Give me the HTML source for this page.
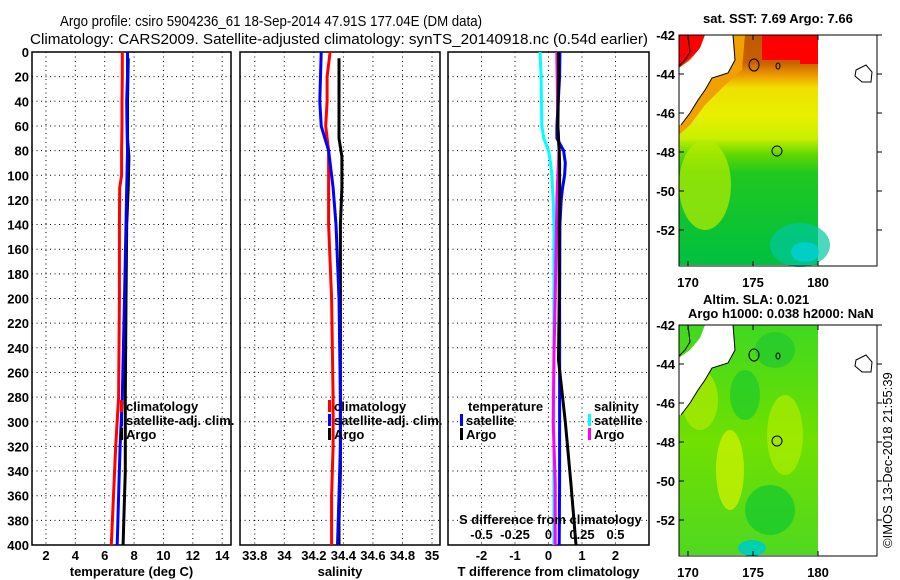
<!DOCTYPE html>
<html><head><meta charset="utf-8"><style>
html,body{margin:0;padding:0;background:#fff;width:900px;height:580px;overflow:hidden}
svg{display:block}
text{font-family:"Liberation Sans",sans-serif;font-weight:bold;font-size:13px;fill:#000}
.t{font-weight:normal;font-size:15px}
</style></head><body>
<svg id="fig" width="900" height="580" viewBox="0 0 900 580" xmlns="http://www.w3.org/2000/svg">
<text class="t" x="60" y="26" textLength="422" lengthAdjust="spacingAndGlyphs">Argo profile: csiro 5904236_61 18-Sep-2014 47.91S 177.04E (DM data)</text>
<text class="t" x="30" y="44" textLength="618" lengthAdjust="spacingAndGlyphs">Climatology: CARS2009. Satellite-adjusted climatology: synTS_20140918.nc (0.54d earlier)</text>

<g id="maps">
<defs>
<linearGradient id="sstg" x1="0" y1="0" x2="0" y2="1">
<stop offset="0" stop-color="#c05800"/><stop offset="0.12" stop-color="#c86000"/><stop offset="0.18" stop-color="#f0a000"/><stop offset="0.23" stop-color="#f0e000"/><stop offset="0.35" stop-color="#e8f000"/><stop offset="0.45" stop-color="#c8f000"/><stop offset="0.52" stop-color="#60d800"/><stop offset="0.6" stop-color="#20c820"/><stop offset="1" stop-color="#00c040"/>
</linearGradient>
<linearGradient id="slag" x1="0" y1="0" x2="0" y2="1">
<stop offset="0" stop-color="#40d820"/><stop offset="0.5" stop-color="#70e000"/><stop offset="1" stop-color="#50d820"/>
</linearGradient>
</defs>
<text x="703" y="23">sat. SST: 7.69 Argo: 7.66</text>
<g>
<rect x="679" y="35" width="139" height="230" fill="url(#sstg)"/>
<ellipse cx="705" cy="185" rx="26" ry="45" fill="#b8ec00" opacity="0.7"/>
<ellipse cx="800" cy="245" rx="30" ry="22" fill="#00c8a0" opacity="0.7"/>
<ellipse cx="805" cy="252" rx="14" ry="10" fill="#00d0d8" opacity="0.8"/>
<rect x="762" y="35" width="56" height="25" fill="#ff0000"/>
<rect x="800" y="58" width="18" height="6" fill="#ff0000"/>
<polygon points="679,35 705,35 700,50 690,58 679,68" fill="#ff0000"/>
<polygon points="705,35 733,35 735,60 728,73 712,78 705,90 698,100 690,113 681,125 679,125 679,68 690,60 700,48" fill="#fff"/>
<polygon points="733,35 745,35 742,70 725,85 705,105 690,125 679,135 679,125 681,125 690,113 698,100 705,90 712,78 728,73 735,60" fill="#f0a000"/>
<polyline points="733,35 735,60 728,73 712,78 705,90 698,100 690,113 681,125" fill="none" stroke="#000"/>
<polyline points="688,35 690,52 685,60 679,66" fill="none" stroke="#000"/>
<ellipse cx="754" cy="65" rx="5" ry="6" fill="none" stroke="#000"/>
<ellipse cx="778" cy="66" rx="2" ry="3" fill="none" stroke="#000"/>
<circle cx="777" cy="151" r="5" fill="none" stroke="#000"/>
<path d="M856,70 L866,65 L872,72 L871,82 L862,82 L855,76 Z" fill="none" stroke="#000"/>
<rect x="679" y="35" width="198" height="231" fill="none" stroke="#000"/>
<g id="mapticks1"></g>
</g>
<text x="703" y="304">Altim. SLA: 0.021</text>
<text x="688" y="318">Argo h1000: 0.038 h2000: NaN</text>
<g>
<rect x="679" y="325" width="139" height="230" fill="url(#slag)"/>
<ellipse cx="700" cy="400" rx="18" ry="30" fill="#a8e800" opacity="0.8"/>
<ellipse cx="730" cy="470" rx="14" ry="40" fill="#c8f000" opacity="0.8"/>
<ellipse cx="785" cy="435" rx="18" ry="40" fill="#b0ec00" opacity="0.7"/>
<ellipse cx="775" cy="350" rx="20" ry="18" fill="#20c830" opacity="0.7"/>
<ellipse cx="745" cy="395" rx="15" ry="25" fill="#10c830" opacity="0.6"/>
<ellipse cx="770" cy="510" rx="25" ry="25" fill="#10c830" opacity="0.7"/>
<ellipse cx="752" cy="548" rx="14" ry="8" fill="#00d0b0"/>
<polygon points="705,325 733,325 735,350 728,363 712,368 705,380 698,390 690,403 681,415 679,415 679,358 690,350 700,338" fill="#fff"/>
<polyline points="733,325 735,350 728,363 712,368 705,380 698,390 690,403 681,415" fill="none" stroke="#000"/>
<polyline points="688,325 690,342 685,350 679,356" fill="none" stroke="#000"/>
<ellipse cx="754" cy="355" rx="5" ry="6" fill="none" stroke="#000"/>
<ellipse cx="778" cy="356" rx="2" ry="3" fill="none" stroke="#000"/>
<circle cx="777" cy="441" r="5" fill="none" stroke="#000"/>
<path d="M856,360 L866,355 L872,362 L871,372 L862,372 L855,366 Z" fill="none" stroke="#000"/>
<rect x="679" y="325" width="198" height="231" fill="none" stroke="#000"/>
<g id="mapticks2"></g>
</g>
<text transform="translate(892,548) rotate(-90)" style="font-weight:normal;font-size:13px">©IMOS 13-Dec-2018 21:55:39</text>
</g>
<g id="plots"></g>
</svg>
<script>
// ---- data ----
const depthTicks = [0,20,40,60,80,100,120,140,160,180,200,220,240,260,280,300,320,340,360,380,400];
const tempTicks = [2,4,6,8,10,12,14];
const salTicks = [33.8,34,34.2,34.4,34.6,34.8,35];
const salTickLabels = ["33.8","34","34.2","34.4","34.6","34.8","35"];
const tdiffTicks = [-2,-1,0,1,2];
const sdiffTicks = [-0.5,-0.25,0,0.25,0.5];
const sdiffTickLabels = ["-0.5","-0.25","0","0.25","0.5"];

const climDepth = [0,20,40,60,80,100,110,140,200,280,320,360,400];
const tempClim = [7.2,7.2,7.18,7.18,7.15,7.15,7.02,7.0,7.0,6.95,6.75,6.6,6.45];
const tempSat  = [7.55,7.55,7.5,7.52,7.55,7.52,7.5,7.45,7.35,7.2,7.05,6.95,6.85];
const salClim  = [34.31,34.29,34.29,34.28,34.30,34.30,34.30,34.30,34.32,34.33,34.33,34.32,34.32];
const salSat   = [34.25,34.245,34.24,34.25,34.30,34.32,34.33,34.35,34.37,34.38,34.38,34.37,34.36];

const argoDepth = [5,40,70,85,110,140,200,280,340,380,400];
const tempArgo = [7.6,7.55,7.55,7.65,7.6,7.5,7.45,7.4,7.4,7.3,7.25];
const salArgo  = [34.37,34.37,34.37,34.39,34.39,34.38,34.38,34.38,34.38,34.37,34.37];

const diffDepth = [0,20,60,70,80,90,100,110,120,140,200,250,300,350,400];
const tdiffSat  = [0.34,0.33,0.25,0.25,0.45,0.5,0.48,0.42,0.38,0.34,0.33,0.33,0.33,0.33,0.32];
const tdiffArgo = [0.3,0.3,0.28,0.3,0.32,0.33,0.33,0.33,0.33,0.32,0.32,0.3,0.5,0.67,0.82];
const sdiffSat  = [-0.063,-0.055,-0.05,-0.035,0.0,0.015,0.025,0.03,0.035,0.04,0.04,0.04,0.04,0.04,0.04];
const sdiffArgo = [0.062,0.065,0.07,0.075,0.078,0.075,0.07,0.066,0.063,0.06,0.05,0.04,0.035,0.05,0.05];

const mapLatTicks = [-42,-44,-46,-48,-50,-52];
const mapLonTicks = [170,175,180];

// ---- scales ----
const Y0=52, Y1=545;
const yD = d => Y0 + (Y1-Y0)*d/400;
const P1={x0:32,x1:231,min:1.05,max:14.6};
const P2={x0:240,x1:440,min:33.70,max:35.054};
const P3={x0:448,x1:649,min:-3,max:3};
const xs = P => v => P.x0 + (P.x1-P.x0)*(v-P.min)/(P.max-P.min);
const xT=xs(P1), xS=xs(P2), xTd=xs(P3), xSd = v => xTd(v*4);

const NS='http://www.w3.org/2000/svg';
const root=document.getElementById('plots');
function mk(tag,attrs,parent){const e=document.createElementNS(NS,tag);for(const k in attrs)e.setAttribute(k,attrs[k]);(parent||root).appendChild(e);return e;}
function txt(x,y,s,anchor,parent){const e=mk('text',{x:x,y:y,'text-anchor':anchor||'start'},parent);e.textContent=s;return e;}

function panel(P,name,ticks,labels,xf,title){
  const g=mk('g',{});
  
  
  depthTicks.forEach(d=>{ if(d>0&&d<400){const l=mk('line',{x1:P.x0,x2:P.x1,y1:yD(d),y2:yD(d),stroke:'#000','stroke-dasharray':'1,3.5'},g);
    
    }});
  ticks.forEach((v,i)=>{const x=xf(v);
    const l=mk('line',{x1:x,x2:x,y1:Y0,y2:Y1,stroke:'#000','stroke-dasharray':'1,3.5'},g);
    
    
    const t=txt(x,560,labels[i],'middle',g);
    
    });
  const r=mk('rect',{x:P.x0,y:Y0,width:P.x1-P.x0,height:Y1-Y0,fill:'none',stroke:'#000','stroke-width':1.5},g);
  
  
  const at=txt((P.x0+P.x1)/2,576,title,'middle',g);
  
  
  return g;
}
function line(g,depths,vals,xf,color,name){
  const pts=depths.map((d,i)=>xf(vals[i]).toFixed(1)+','+yD(d).toFixed(1)).join(' ');
  const p=mk('polyline',{points:pts,fill:'none',stroke:color,'stroke-width':3},g);
  
  
}
function legend(g,x,y,color,label,name){
  const r=mk('rect',{x:x,y:y-11,width:3,height:12,fill:color},g);
  
  
  const t=txt(x+6,y,label,'start',g);
  
  
}

depthTicks.forEach(d=>{const t=txt(29,yD(d)+5,String(d),'end');
  
  });

const g1=panel(P1,'temperature-panel',tempTicks,tempTicks.map(String),xT,'temperature (deg C)');
line(g1,climDepth,tempClim,xT,'#f00','temp-climatology-line');
line(g1,argoDepth,tempArgo,xT,'#000','temp-argo-line');
line(g1,climDepth,tempSat,xT,'#00f','temp-satellite-line');
legend(g1,120,411,'#f00','climatology','legend-climatology');
legend(g1,120,425,'#00f','satellite-adj. clim.','legend-satellite-adj');
legend(g1,120,439,'#000','Argo','legend-argo');

const g2=panel(P2,'salinity-panel',salTicks,salTickLabels,xS,'salinity');
line(g2,climDepth,salClim,xS,'#f00','sal-climatology-line');
line(g2,argoDepth,salArgo,xS,'#000','sal-argo-line');
line(g2,climDepth,salSat,xS,'#00f','sal-satellite-line');
legend(g2,328,411,'#f00','climatology','legend-climatology');
legend(g2,328,425,'#00f','satellite-adj. clim.','legend-satellite-adj');
legend(g2,328,439,'#000','Argo','legend-argo');

const g3=panel(P3,'difference-panel',tdiffTicks,tdiffTicks.map(String),xTd,'T difference from climatology');
line(g3,diffDepth,sdiffSat,xSd,'#0ff','sdiff-satellite-line');
line(g3,diffDepth,sdiffArgo,xSd,'#f0f','sdiff-argo-line');
line(g3,diffDepth,tdiffSat,xTd,'#00f','tdiff-satellite-line');
line(g3,diffDepth,tdiffArgo,xTd,'#000','tdiff-argo-line');
{const t=txt(468,411,'temperature','start',g3);}
legend(g3,460,425,'#00f','satellite','legend-t-satellite');
legend(g3,460,439,'#000','Argo','legend-t-argo');
{const t=txt(594,411,'salinity','start',g3);}
legend(g3,588,425,'#0ff','satellite','legend-s-satellite');
legend(g3,588,439,'#f0f','Argo','legend-s-argo');
{const t=txt(459,524,'S difference from climatology','start',g3);}
sdiffTicks.forEach((v,i)=>{const t=txt(xSd(v),539,sdiffTickLabels[i],'middle',g3);
  
  });

function mapAxes(id,top){
  const g=document.getElementById(id);
  const lat = v => top + (-42 - v)*19.5;
  const lon = v => 688 + (v-170)*13;
  mapLatTicks.forEach(v=>{const y=lat(v);
    mk('line',{x1:877,x2:882,y1:y,y2:y,stroke:'#000'},g);
    mk('line',{x1:679,x2:684,y1:y,y2:y,stroke:'#000'},g);
    const t=txt(675,y+5,String(v),'end',g);
    
    });
  mapLonTicks.forEach(v=>{const x=lon(v);
    mk('line',{x1:x,x2:x,y1:top+226,y2:top+231,stroke:'#000'},g);
    mk('line',{x1:x,x2:x,y1:top,y2:top+5,stroke:'#000'},g);
    const t=txt(x,top+252,String(v),'middle',g);
    
    });
}
mapAxes('mapticks1',35);
mapAxes('mapticks2',325);
</script>
</body></html>
